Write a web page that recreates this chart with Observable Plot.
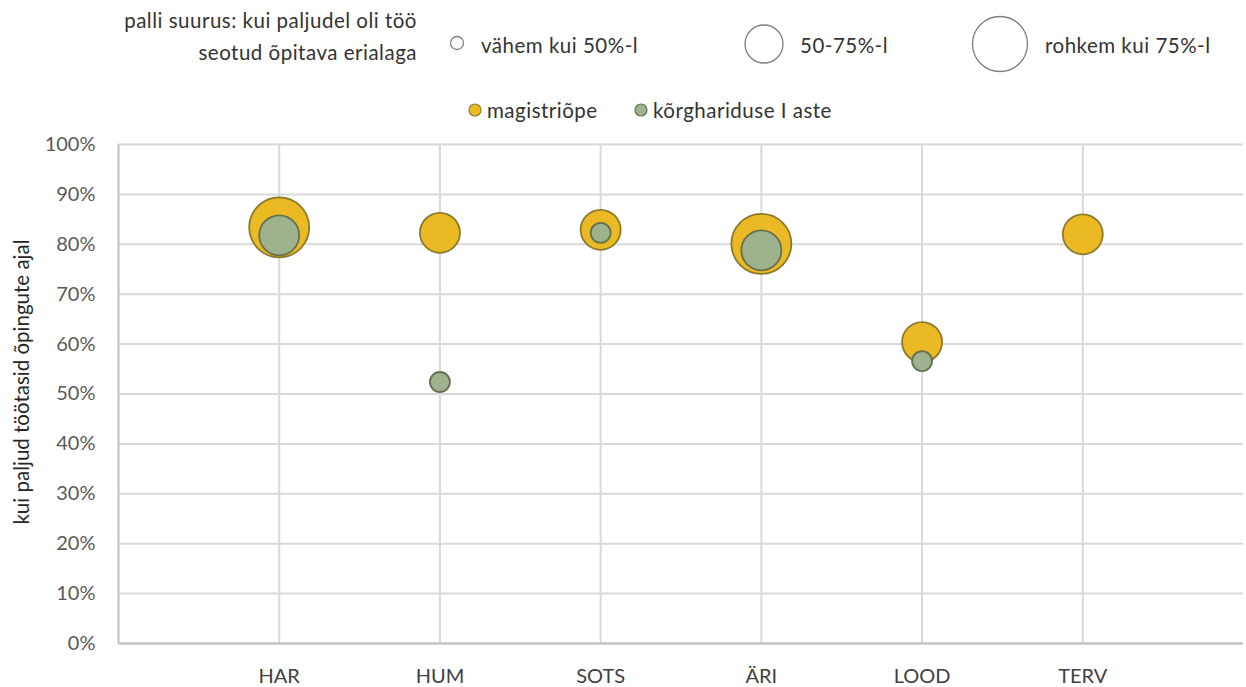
<!DOCTYPE html>
<html>
<head>
<meta charset="utf-8">
<script src="https://cdn.jsdelivr.net/npm/d3@7"></script>
<script src="https://cdn.jsdelivr.net/npm/@observablehq/plot@0.6"></script>
<style>
  body { margin: 0; background: #fff; font-family: Lato, "Noto Sans", sans-serif; }
  #wrap { position: relative; width: 1246px; height: 687px; }
  #legend { position: relative; width: 1246px; height: 130px; color: #333; }
  .lt { position: absolute; font-size: 20.5px; letter-spacing: 0.5px; white-space: nowrap; line-height: 24px; }
  #legend svg { position: absolute; left: 0; top: 0; }
</style>
</head>
<body>
<div id="wrap">
  <div id="legend"></div>
  <div id="chart"></div>
</div>
<script>
// ---- data ----
const categories = ["HAR", "HUM", "SOTS", "ÄRI", "LOOD", "TERV"];
const magistriValues = [83.4, 82.3, 82.9, 80.1, 60.4, 82.0];
const magistriSizeLevel = [3, 2, 2, 3, 2, 2];      // 1: <50%, 2: 50-75%, 3: >75%
const korgValues = [81.8, 52.4, 82.3, 78.8, 56.6, null];
const korgSizeLevel = [2, 1, 1, 2, 1, null];
const yTicks = [0, 10, 20, 30, 40, 50, 60, 70, 80, 90, 100];
const seriesNames = ["magistriõpe", "kõrghariduse I aste"];
const sizeLegendLabels = ["vähem kui 50%-l", "50-75%-l", "rohkem kui 75%-l"];
const sizeTitle = ["palli suurus: kui paljudel oli töö", "seotud õpitava erialaga"];
const yLabel = "kui paljud töötasid õpingute ajal";

const colYellow = "#EBB923", strokeYellow = "#8C7A2C";
const colGreen = "#9EB38D", strokeGreen = "#66704F";

const magistri = categories.map((c, i) => ({cat: c, idx: i + 1, v: magistriValues[i], s: magistriSizeLevel[i]}));
const korg = categories.map((c, i) => ({cat: c, idx: i + 1, v: korgValues[i], s: korgSizeLevel[i]}))
  .filter(d => d.v != null);

// ---- legend (HTML + small svg) ----
const legend = document.getElementById("legend");
const ns = "http://www.w3.org/2000/svg";
const lsvg = document.createElementNS(ns, "svg");
lsvg.setAttribute("width", 1246); lsvg.setAttribute("height", 130);
legend.appendChild(lsvg);
function circ(cx, cy, r, fill, stroke, sw) {
  const c = document.createElementNS(ns, "circle");
  c.setAttribute("cx", cx); c.setAttribute("cy", cy); c.setAttribute("r", r);
  c.setAttribute("fill", fill); c.setAttribute("stroke", stroke); c.setAttribute("stroke-width", sw);
  lsvg.appendChild(c);
}
function txt(s, left, top, right) {
  const d = document.createElement("div");
  d.className = "lt"; d.textContent = s; d.style.top = top + "px";
  if (right != null) { d.style.right = right + "px"; d.style.textAlign = "right"; }
  else d.style.left = left + "px";
  legend.appendChild(d);
}
txt(sizeTitle[0], null, 8, 1246 - 417);
txt(sizeTitle[1], null, 40, 1246 - 417);
circ(457, 43, 6.5, "#fff", "#7f7f7f", 1.3);
txt(sizeLegendLabels[0], 481, 33);
circ(764, 44, 19, "#fff", "#7f7f7f", 1.3);
txt(sizeLegendLabels[1], 800, 33);
circ(1000, 44, 27.5, "#fff", "#7f7f7f", 1.3);
txt(sizeLegendLabels[2], 1045, 33);
circ(475, 110, 6, colYellow, strokeYellow, 1.2);
txt(seriesNames[0], 487, 98);
circ(641, 110, 6, colGreen, strokeGreen, 1.2);
txt(seriesNames[1], 653, 98);

// ---- chart ----
const chart = Plot.plot({
  width: 1246,
  height: 557,
  marginTop: 14,
  marginBottom: 44,
  marginLeft: 118,
  marginRight: 3,
  style: {fontFamily: "Lato, 'Noto Sans', sans-serif", fontSize: "20px", color: "#595959", background: "#fff"},
  x: {type: "linear", domain: [0, 7], ticks: d3.range(1, categories.length + 1), tickFormat: i => categories[i - 1]},
  y: {domain: [0, 100], ticks: yTicks, tickFormat: d => d + "%"},
  r: {type: "linear", domain: [0, 3], range: [0, 30]},
  marks: [
    Plot.gridY(yTicks, {stroke: "#d9d9d9", strokeOpacity: 1, strokeWidth: 2}),
    Plot.gridX(d3.range(1, categories.length + 1), {stroke: "#d9d9d9", strokeOpacity: 1, strokeWidth: 2}),
    Plot.ruleY([0], {stroke: "#bfbfbf", strokeWidth: 2}),
    Plot.ruleX([0], {stroke: "#bfbfbf", strokeWidth: 2}),
    Plot.axisY({ticks: yTicks, tickSize: 0, tickPadding: 23, tickFormat: d => d + "%", label: null, fontSize: 20}),
    Plot.axisX({ticks: d3.range(1, categories.length + 1), tickFormat: i => categories[i - 1], tickSize: 0, tickPadding: 25, label: null, fontSize: 20, fill: "#404040"}),
    Plot.dot(magistri, {x: "idx", y: "v", r: "s", fill: colYellow, stroke: strokeYellow, strokeWidth: 1.8}),
    Plot.dot(korg, {x: "idx", y: "v", r: "s", fill: colGreen, stroke: strokeGreen, strokeWidth: 1.8}),
    Plot.text([yLabel], {frameAnchor: "left", textAnchor: "middle", dx: -96, dy: -12, rotate: -90, fontSize: 20.5, fill: "#262626"})
  ]
});
document.getElementById("chart").appendChild(chart);
</script>
</body>
</html>
